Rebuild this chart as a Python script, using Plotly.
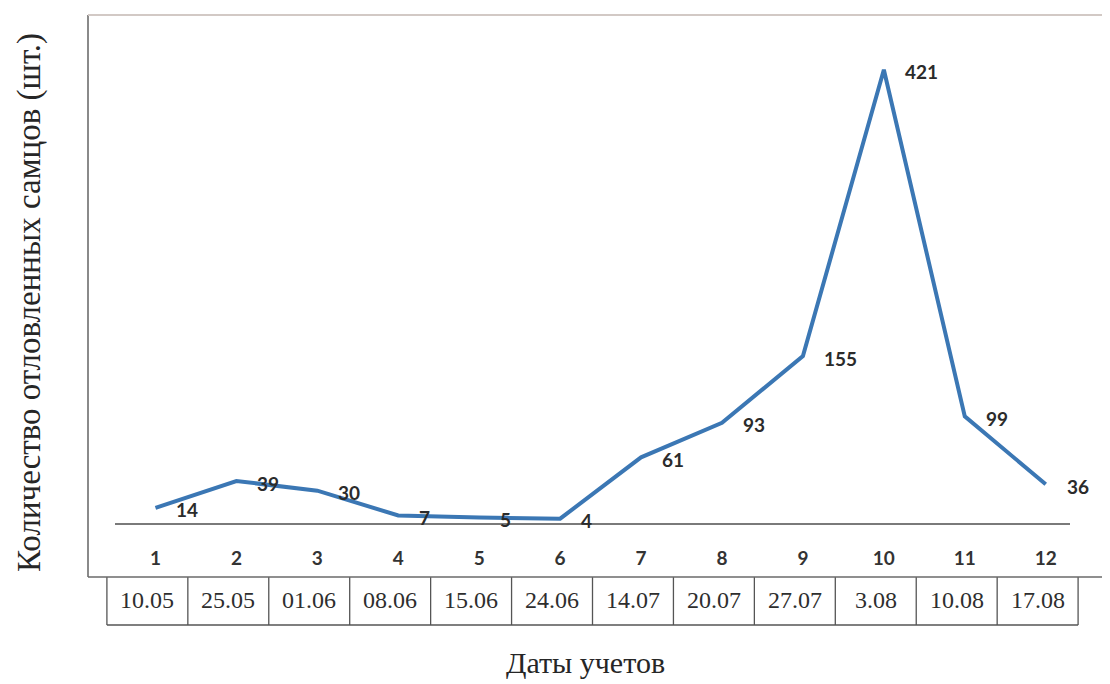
import plotly.graph_objects as go

# ---- data ----
categories = [1, 2, 3, 4, 5, 6, 7, 8, 9, 10, 11, 12]
counts = [14, 39, 30, 7, 5, 4, 61, 93, 155, 421, 99, 36]
dates = ["10.05", "25.05", "01.06", "08.06", "15.06", "24.06",
         "14.07", "20.07", "27.07", "3.08", "10.08", "17.08"]
y_title = "Количество отловленных самцов (шт.)"
x_title = "Даты учетов"

OFF = 8  # page body margin
W, H = 1110 - OFF, 684 - OFF
ML, MT = 115 - OFF, 60 - OFF
MR = W - (1070 - OFF)
MB = H - (523 - OFF)
PW, PH = W - ML - MR, H - MT - MB
XR = [0.5, 12.3]


def px(xp):
    return (xp - OFF - ML) / PW


def py(yp):
    return (H - MB - (yp - OFF)) / PH


def xdata_to_paper(xv):
    return (xv - XR[0]) / (XR[1] - XR[0])


fig = go.Figure()
fig.add_trace(go.Scatter(
    x=categories, y=counts, mode="lines",
    line=dict(color="#3b77b4", width=4),
    hoverinfo="skip", showlegend=False,
))

annotations = []
for c, v in zip(categories, counts):
    annotations.append(dict(
        x=c, y=v, xref="x", yref="y", text=str(v), showarrow=False,
        xanchor="left", yanchor="middle", xshift=19, yshift=-2,
        font=dict(family="Lato", size=19, color="#2b2b2b", weight="bold"),
    ))

# date table
row_top, row_bot = py(577), py(625)
shapes = []
line_style = dict(color="#555555", width=1.3)
for k in range(len(categories) + 1):
    xb = xdata_to_paper(k + 0.4)
    shapes.append(dict(type="line", xref="paper", yref="paper",
                       x0=xb, x1=xb, y0=row_top, y1=row_bot, line=line_style))
shapes.append(dict(type="line", xref="paper", yref="paper",
                   x0=xdata_to_paper(0.4), x1=xdata_to_paper(len(categories) + 0.4),
                   y0=row_bot, y1=row_bot, line=line_style))
for c, d in zip(categories, dates):
    annotations.append(dict(
        x=c - 0.1, y=py(600), xref="x", yref="paper", text=d, showarrow=False,
        xanchor="center", yanchor="middle",
        font=dict(family="Liberation Serif", size=24, color="#2e2e2e"),
    ))

# outer frame
shapes.append(dict(type="line", xref="paper", yref="paper", x0=px(88), x1=px(88),
                   y0=py(15), y1=py(577), line=dict(color="#8a8a8a", width=2)))
shapes.append(dict(type="line", xref="paper", yref="paper", x0=px(88), x1=px(1112),
                   y0=py(15), y1=py(15), line=dict(color="#d2c9c5", width=2)))
shapes.append(dict(type="line", xref="paper", yref="paper", x0=px(88), x1=px(1112),
                   y0=py(577), y1=py(577), line=dict(color="#6a6a6a", width=1.5)))

# axis titles
annotations.append(dict(
    x=px(29), y=py(303), xref="paper", yref="paper", text=y_title, showarrow=False,
    textangle=-90, xanchor="center", yanchor="middle",
    font=dict(family="Liberation Serif", size=33, color="#262626"),
))
annotations.append(dict(
    x=px(585), y=py(662), xref="paper", yref="paper", text=x_title, showarrow=False,
    xanchor="center", yanchor="middle",
    font=dict(family="Liberation Serif", size=30, color="#262626"),
))

fig.update_layout(
    width=W, height=H,
    margin=dict(l=ML, r=MR, t=MT, b=MB),
    paper_bgcolor="white", plot_bgcolor="white",
    shapes=shapes, annotations=annotations,
    xaxis=dict(range=XR, tickvals=categories, ticktext=[str(c) for c in categories],
               showgrid=False, zeroline=False, showline=True, linecolor="#7a7a7a", linewidth=1.5,
               ticks="", ticklabelstandoff=17,
               tickfont=dict(family="Lato", size=19, color="#333333", weight="bold")),
    yaxis=dict(range=[0, 430], visible=False, showgrid=False, zeroline=False),
)

fig.write_html("out.html")
